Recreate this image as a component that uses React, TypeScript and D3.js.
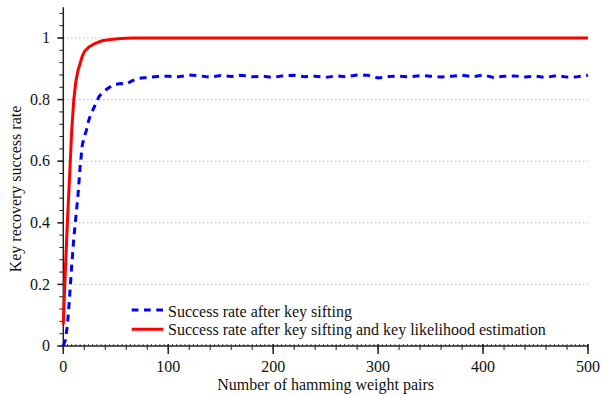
import React from 'react';
import * as d3 from 'd3';

// x positions (number of hamming weight pairs) and success rates
const siftX = [0, 2, 4, 6, 8, 10, 12, 14, 16, 18, 20, 22, 24, 26, 28, 30, 34, 38, 42, 46, 50, 55, 60, 65, 70, 80, 90,
  100, 110, 120, 130, 140, 150, 160, 170, 180, 190, 200, 210, 220, 230, 240, 250, 260, 270, 280, 290, 300,
  310, 320, 330, 340, 350, 360, 370, 380, 390, 400, 410, 420, 430, 440, 450, 460, 470, 480, 490, 500];
const siftRate = [0, 0.02, 0.07, 0.16, 0.26, 0.35, 0.42, 0.49, 0.58, 0.65, 0.68, 0.7, 0.73, 0.75, 0.765, 0.78, 0.81, 0.825, 0.835, 0.845, 0.85, 0.852, 0.85, 0.86, 0.868, 0.872, 0.875,
  0.876, 0.874, 0.88, 0.877, 0.873, 0.878, 0.875, 0.879, 0.874, 0.876, 0.872, 0.878, 0.879, 0.874, 0.876, 0.872, 0.877, 0.874, 0.88, 0.879, 0.87,
  0.875, 0.876, 0.874, 0.878, 0.876, 0.873, 0.876, 0.879, 0.874, 0.88, 0.872, 0.876, 0.877, 0.873, 0.876, 0.872, 0.878, 0.873, 0.874, 0.879];

const likeX = [0, 2, 4, 6, 8, 10, 12, 14, 16, 18, 20, 24, 30, 37, 45, 55, 65, 80, 100, 200, 300, 400, 500];
const likeRate = [0.07, 0.25, 0.41, 0.55, 0.7, 0.8, 0.86, 0.895, 0.917, 0.94, 0.955, 0.97, 0.982, 0.991, 0.995, 0.998, 1, 1, 1, 1, 1, 1, 1];

const yTickLabels = ['0', '0.2', '0.4', '0.6', '0.8', '1'];
const xTickLabels = ['0', '100', '200', '300', '400', '500'];
const legendLabels = ['Success rate after key sifting', 'Success rate after key sifting and key likelihood estimation'];

const W = 602, H = 395;
const font = '"Liberation Serif", "Times New Roman", serif';

export default function App() {
  const x = d3.scaleLinear().domain([0, 500]).range([63.3, 588]);
  const y = d3.scaleLinear().domain([0, 1]).range([346, 38]);

  const line = d3.line<[number, number]>().x(d => x(d[0])).y(d => y(d[1]));
  const siftPath = line(siftX.map((v, i) => [v, siftRate[i]]));
  const likePath = line(likeX.map((v, i) => [v, likeRate[i]]));

  const axisCol = '#222';
  const yMajor = d3.range(0, 1.01, 0.2);
  const yMinor = d3.range(0, 1.1, 0.04);
  const xMajor = d3.range(0, 501, 100);
  const xMinor = d3.range(0, 501, 20);
  const xTiny = d3.range(0, 501, 4);

  return (
    <svg width={W} height={H} style={{ position: 'absolute', left: 0, top: 0 }} fontFamily={font}>
      <rect width={W} height={H} fill="#fff" />
      {/* grid */}
      {yMajor.slice(1).map(v => (
        <line key={'g' + v} x1={x(0)} x2={x(500)} y1={y(v)} y2={y(v)} stroke="#999" strokeWidth={1} strokeDasharray="1,3" />
      ))}
      {/* y axis */}
      <line x1={x(0)} x2={x(0)} y1={y(1.1)} y2={y(0)} stroke={axisCol} strokeWidth={1.5} />
      {yMinor.map(v => (
        <line key={'ym' + v} x1={x(0) - 4} x2={x(0)} y1={y(v)} y2={y(v)} stroke={axisCol} strokeWidth={1} />
      ))}
      {yMajor.map((v, i) => (
        <g key={'yM' + i}>
          <line x1={x(0) - 6} x2={x(0)} y1={y(v)} y2={y(v)} stroke={axisCol} strokeWidth={1.5} />
          <text x={50} y={y(v)} dy="0.33em" textAnchor="end" fontSize={16} fill="#111">{yTickLabels[i]}</text>
        </g>
      ))}
      {/* x axis */}
      <line x1={x(0)} x2={x(500)} y1={y(0)} y2={y(0)} stroke={axisCol} strokeWidth={1.5} />
      {xTiny.map(v => (
        <line key={'xt' + v} x1={x(v)} x2={x(v)} y1={y(0) - 2} y2={y(0)} stroke={axisCol} strokeWidth={0.8} />
      ))}
      {xMinor.map(v => (
        <line key={'xm' + v} x1={x(v)} x2={x(v)} y1={y(0)} y2={y(0) + 4} stroke={axisCol} strokeWidth={1} />
      ))}
      {xMajor.map((v, i) => (
        <g key={'xM' + i}>
          <line x1={x(v)} x2={x(v)} y1={y(0) - 2} y2={y(0) + 8} stroke={axisCol} strokeWidth={1.5} />
          <text x={x(v)} y={371.5} textAnchor="middle" fontSize={16} fill="#111">{xTickLabels[i]}</text>
        </g>
      ))}
      <text x={(x(0) + x(500)) / 2} y={390} textAnchor="middle" fontSize={16} fill="#111">Number of hamming weight pairs</text>
      <text transform={`translate(21,189) rotate(-90)`} textAnchor="middle" fontSize={16} fill="#111">Key recovery success rate</text>
      {/* series */}
      <path d={siftPath ?? ''} fill="none" stroke="#0000ff" strokeWidth={3} strokeDasharray="7,5.5" />
      <path d={likePath ?? ''} fill="none" stroke="#ff0000" strokeWidth={3} strokeLinejoin="round" />
      {/* legend */}
      <line x1={131.7} x2={163.3} y1={310} y2={310} stroke="#0000ff" strokeWidth={3} strokeDasharray="6.7,5.6" />
      <text x={168} y={316.5} fontSize={16} fill="#111">{legendLabels[0]}</text>
      <line x1={131.7} x2={163.3} y1={329.3} y2={329.3} stroke="#ff0000" strokeWidth={3} />
      <text x={168} y={335} fontSize={16} fill="#111">{legendLabels[1]}</text>
    </svg>
  );
}
